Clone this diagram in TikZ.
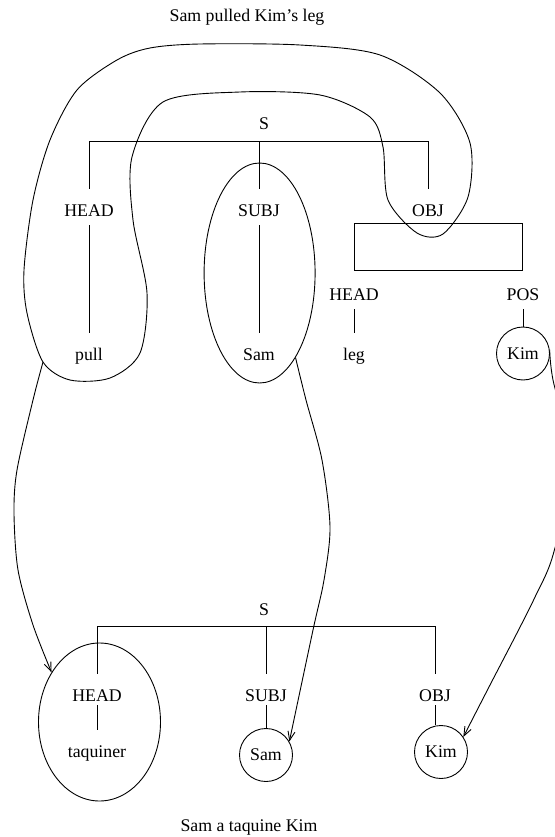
\documentclass[tikz,border=0pt]{standalone}
\usepackage{fontspec}
\setmainfont{Liberation Serif}
\usetikzlibrary{shapes.geometric, arrows.meta}

\begin{document}
\begin{tikzpicture}[x = 1pt, y = -1pt, line width = 0.9pt, font = \fontsize{17.8pt}{21pt}\selectfont,
	>= {Straight Barb[length = 9pt, width = 7pt]},
	lab/.style = {inner sep = 0pt, text height = 27pt, text depth = #1}, lab/.default = 9pt,
	circ/.style = {draw, circle, inner sep = 0pt, minimum size = 53pt},
	grp/.style = {draw, ellipse, inner sep = 0pt}]
	 \useasboundingbox (0, 0) rectangle (554, 837);

	 \node (ttl1) at (247, 17) {Sam pulled Kim’s leg};
	 \node[lab = 11pt] (s1) at (264, 122) {S};
	 \node[lab] (hd1) at (89, 207) {HEAD};
	 \node[lab] (sb1) at (259, 207) {SUBJ};
	 \node[lab] (ob1) at (428, 207) {OBJ};
	 \node[lab] (pl1) at (89, 351) {pull};
	 \node[lab] (sm1) at (259, 351) {Sam};
	 \node[draw, inner sep = 0pt, minimum width = 168pt, minimum height = 47pt] (np1) at (438, 246.5) {};
	 \node[lab] (hd3) at (354, 291) {HEAD};
	 \node[lab] (ps1) at (523, 291) {POS};
	 \node[lab] (lg1) at (354, 351) {leg};
	 \node[circ] (km1) at (523, 353.5) {Kim};
	 \node[grp, minimum width = 111pt, minimum height = 220pt] (sgrp) at (259.6, 273) {};

	 \draw (hd1.north) |- (s1.south) -| (ob1.north);
	 \draw (sb1.north) -- (sb1.north |- s1.south);
	 \foreach \a/\b in {hd1/pl1, sb1/sm1, hd3/lg1, ps1/km1}
	 \draw (\a.south) -- (\a.south |- \b.north);

	 \coordinate (bandlow) at (43, 362);
	 \draw plot [smooth cycle] coordinates {(200, 44) (300, 45) (380, 55) (440, 93) (470, 143) (468, 197) (443, 234) (417, 233) (388, 200) (383, 147) (370, 117) (320, 95) (240, 92) (163, 102) (132, 157) (133, 220) (147, 293) (140, 353) (110, 378) (70, 380) (bandlow) (27, 313) (24, 270) (33, 200) (50, 140) (77, 90) (117, 60) (150, 48)};

	 \node[lab = 11pt] (s2) at (264, 607) {S};
	 \node[lab = 4pt] (hd2) at (97, 689.5) {HEAD};
	 \node[lab = 4pt] (sb2) at (266, 689.5) {SUBJ};
	 \node[lab = 4pt] (ob2) at (435, 689.5) {OBJ};
	 \node[lab] (tq) at (97, 748) {taquiner};
	 \node[circ] (sm2) at (266, 755) {Sam};
	 \node[circ] (km2) at (441, 752) {Kim};
	 \node[grp, minimum width = 122pt, minimum height = 158pt] (tgrp) at (99.5, 722) {};
	 \node (ttl2) at (249, 827) {Sam a taquine Kim};

	 \draw (hd2.north) |- (s2.south) -| (ob2.north);
	 \draw (sb2.north) -- (sb2.north |- s2.south);
	 \foreach \a/\b in {hd2/tq, sb2/sm2, ob2/km2}
	 \draw (\a.south) -- (\a.south |- \b.north);

	 \draw[->] plot [smooth] coordinates {(bandlow) (33, 400) (17, 470) (14, 513) (18, 570) (33, 625) (tgrp.134)};
	 \draw[->] plot [smooth] coordinates {(sgrp.-67) (306, 400) (322, 460) (330, 527) (324, 580) (313, 630) (sm2.30)};
	 \draw[->] plot [smooth] coordinates {(km1.8) (553, 380) (572, 465) (553, 555) (535, 597) (517, 633) (490, 685) (km2.34)};
\end{tikzpicture}
\end{document}
